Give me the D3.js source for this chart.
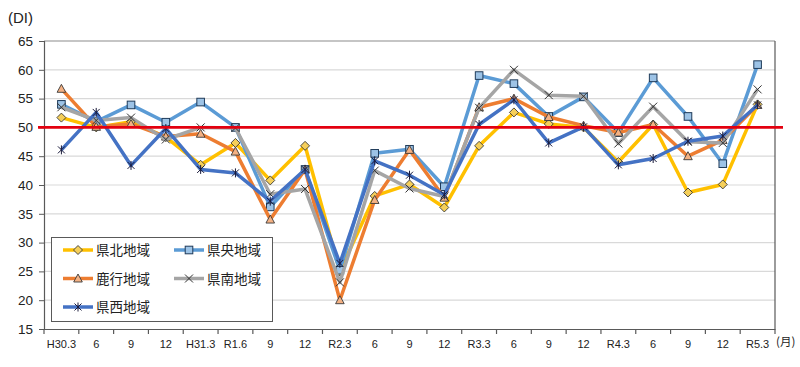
<!DOCTYPE html>
<html><head><meta charset="utf-8">
<script src="https://cdn.jsdelivr.net/npm/d3@7"></script>
<style>body{margin:0;background:#fff;}svg{display:block;}</style>
</head><body><svg id="c" width="800" height="367"></svg>
<script>
const categories = ["H30.3","6","9","12","H31.3","R1.6","9","12","R2.3","6","9","12","R3.3","6","9","12","R4.3","6","9","12","R5.3"];
const kenpoku = [51.7,50.0,51.0,48.3,43.5,47.3,40.8,46.8,25.0,38.1,40.1,36.1,46.8,52.6,50.6,50.0,44.0,50.5,38.7,40.1,54.0];
const kenou   = [54.0,51.0,53.9,50.9,54.4,50.0,36.2,42.7,25.2,45.5,46.2,39.7,59.0,57.6,51.9,55.3,49.1,58.6,51.9,43.7,60.9];
const rokko   = [56.7,50.1,50.6,48.4,48.9,45.8,34.0,42.7,20.0,37.4,46.1,37.8,53.5,55.0,51.8,50.3,49.1,50.5,45.0,47.8,53.9];
const kennan  = [53.5,51.2,51.7,47.9,50.0,49.9,38.4,39.3,23.1,42.5,39.4,38.0,53.4,60.0,55.6,55.4,47.2,53.6,47.5,47.3,56.6];
const kensei  = [46.1,52.6,43.4,49.8,42.7,42.1,37.2,42.7,26.4,44.2,41.7,38.3,50.5,54.8,47.3,50.1,43.5,44.6,47.6,48.5,53.9];
const yTicks = [15,20,25,30,35,40,45,50,55,60,65];
const seriesNames = ["県北地域","県央地域","鹿行地域","県南地域","県西地域"];

const series = [
  {name:seriesNames[0], values:kenpoku, color:"#FFC000", marker:"diamond", fill:"#F5CF5A"},
  {name:seriesNames[1], values:kenou, color:"#5B9BD5", marker:"square", fill:"#9DC3E6"},
  {name:seriesNames[2], values:rokko, color:"#ED7D31", marker:"triangle", fill:"#F4B183"},
  {name:seriesNames[3], values:kennan, color:"#A5A5A5", marker:"x", fill:"none"},
  {name:seriesNames[4], values:kensei, color:"#4472C4", marker:"star", fill:"none"}
];

const svg = d3.select("#c");
const L=44, R=775, T=41, B=329;
const x = d3.scaleBand().domain(d3.range(categories.length)).range([L,R]);
const y = d3.scaleLinear().domain([15,65]).range([B,T]);
const font = "'Liberation Sans', Arial, sans-serif";

svg.append("g").selectAll("line").data(yTicks.filter(t=>t>15 && t<65)).join("line")
  .attr("x1",L).attr("x2",R).attr("y1",d=>y(d)).attr("y2",d=>y(d))
  .attr("stroke","#D9D9D9").attr("stroke-width",1.2);
svg.append("line").attr("x1",L).attr("x2",R).attr("y1",T).attr("y2",T).attr("stroke","#8C8C8C").attr("stroke-width",1.2);
svg.append("line").attr("x1",R).attr("x2",R).attr("y1",T).attr("y2",B).attr("stroke","#595959").attr("stroke-width",1.2);

const ya = svg.append("g").attr("transform",`translate(${L},0)`)
  .call(d3.axisLeft(y).tickValues(yTicks).tickSize(5).tickPadding(6));
ya.select(".domain").attr("stroke","#595959").attr("stroke-width",1.2);
ya.selectAll(".tick line").attr("stroke","#595959");
ya.selectAll("text").attr("font-family",font).attr("font-size",13.5).attr("fill","#222");

const xa = svg.append("g").attr("transform",`translate(0,${B})`)
  .call(d3.axisBottom(x).tickFormat(i=>categories[i]).tickSize(0).tickPadding(11));
xa.select(".domain").attr("stroke","#595959").attr("stroke-width",1.2);
xa.selectAll("text").attr("font-family",font).attr("font-size",11).attr("fill","#222");
xa.selectAll(".bt").data(d3.range(categories.length+1)).join("line")
  .attr("x1",i=>L+i*x.step()).attr("x2",i=>L+i*x.step()).attr("y1",0).attr("y2",5)
  .attr("stroke","#595959").attr("stroke-width",1.2);

svg.append("text").attr("x",8).attr("y",23).text("(DI)")
  .attr("font-family",font).attr("font-size",15).attr("fill","#222");
svg.append("text").attr("x",776).attr("y",346).text("(月)")
  .attr("font-family","'Noto Sans CJK JP', sans-serif").attr("font-size",11.5).attr("fill","#222");

const line = d3.line().x((d,i)=>x(i)+x.bandwidth()/2).y(d=>y(d));

function drawMarker(g, type, fill, cx, cy){
  const st="#3A3A3A";
  if(type==="diamond"){
    g.append("path").attr("d",`M${cx},${cy-4.5}L${cx+4.5},${cy}L${cx},${cy+4.5}L${cx-4.5},${cy}Z`).attr("fill",fill).attr("stroke",st).attr("stroke-width",0.9);
  } else if(type==="square"){
    g.append("rect").attr("x",cx-3.8).attr("y",cy-3.8).attr("width",7.6).attr("height",7.6).attr("fill",fill).attr("stroke","#1F3B5A").attr("stroke-width",1);
  } else if(type==="triangle"){
    g.append("path").attr("d",`M${cx},${cy-4.5}L${cx+4.3},${cy+3.5}L${cx-4.3},${cy+3.5}Z`).attr("fill",fill).attr("stroke",st).attr("stroke-width",0.9);
  } else if(type==="x"){
    g.append("path").attr("d",`M${cx-4},${cy-4}L${cx+4},${cy+4}M${cx-4},${cy+4}L${cx+4},${cy-4}`).attr("stroke","#333").attr("stroke-width",1);
  } else {
    g.append("path").attr("d",`M${cx-3.5},${cy-3.5}L${cx+3.5},${cy+3.5}M${cx-3.5},${cy+3.5}L${cx+3.5},${cy-3.5}M${cx},${cy-4.5}L${cx},${cy+4.5}`).attr("stroke","#1A1A3A").attr("stroke-width",1);
  }
}

series.forEach(s=>{
  const g = svg.append("g");
  g.append("path").datum(s.values).attr("d",line).attr("fill","none")
    .attr("stroke",s.color).attr("stroke-width",3.5).attr("stroke-linejoin","round");
  s.values.forEach((v,i)=>drawMarker(g,s.marker,s.fill,x(i)+x.bandwidth()/2,y(v)));
});

svg.append("line").attr("x1",38).attr("x2",783).attr("y1",y(50)).attr("y2",y(50))
  .attr("stroke","#E3000F").attr("stroke-width",2.6);

const lg = svg.append("g");
lg.append("rect").attr("x",51.5).attr("y",237.5).attr("width",221).attr("height",84)
  .attr("fill","#fff").attr("stroke","#595959").attr("stroke-width",1);
const pos = [[63,250],[174,250],[63,278.5],[174,278.5],[63,307]];
series.forEach((s,k)=>{
  const [lx,ly]=pos[k];
  lg.append("line").attr("x1",lx).attr("x2",lx+30).attr("y1",ly).attr("y2",ly).attr("stroke",s.color).attr("stroke-width",3.5);
  drawMarker(lg,s.marker,s.fill,lx+15,ly);
  lg.append("text").attr("x",lx+33).attr("y",ly+5).text(s.name)
    .attr("font-family","'Noto Sans CJK JP', sans-serif").attr("font-size",13.5).attr("fill","#222");
});
</script></body></html>
